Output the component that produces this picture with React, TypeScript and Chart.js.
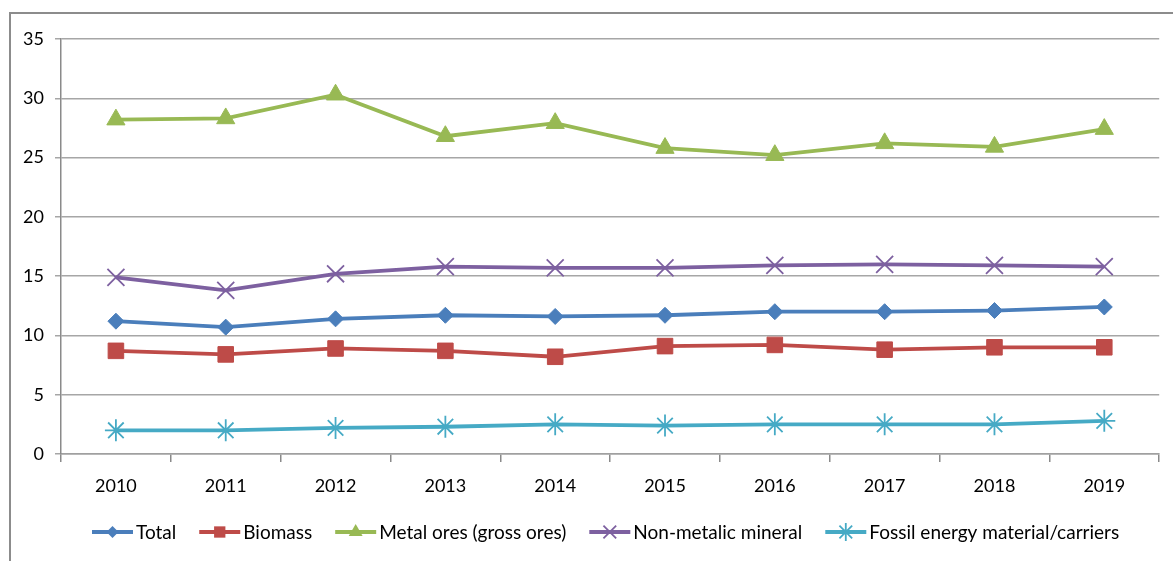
import React, { useEffect, useRef } from 'react';
import { Chart, registerables } from 'chart.js';

Chart.register(...registerables);

const categories = ['2010', '2011', '2012', '2013', '2014', '2015', '2016', '2017', '2018', '2019'];
const totalValues = [11.2, 10.7, 11.4, 11.7, 11.6, 11.7, 12.0, 12.0, 12.1, 12.4];
const biomassValues = [8.7, 8.4, 8.9, 8.7, 8.2, 9.1, 9.2, 8.8, 9.0, 9.0];
const metalOresValues = [28.2, 28.3, 30.3, 26.8, 27.9, 25.8, 25.2, 26.2, 25.9, 27.4];
const nonMetallicValues = [14.9, 13.8, 15.2, 15.8, 15.7, 15.7, 15.9, 16.0, 15.9, 15.8];
const fossilValues = [2.0, 2.0, 2.2, 2.3, 2.5, 2.4, 2.5, 2.5, 2.5, 2.8];
const seriesLabels = [
  'Total',
  'Biomass',
  'Metal ores (gross ores)',
  'Non-metalic mineral',
  'Fossil energy material/carriers',
];
const yMin = 0;
const yMax = 35;
const yStep = 5;

const FONT = 'Lato, "Open Sans", sans-serif';

type Style = { color: string; point: string; radius: number; legendRadius: number; bw: number; filled: boolean };
const styles: Style[] = [
  { color: '#4A7EBB', point: 'rectRot', radius: 8, legendRadius: 6, bw: 1, filled: true },
  { color: '#BE4B48', point: 'rect', radius: 11, legendRadius: 8, bw: 1, filled: true },
  { color: '#98B954', point: 'triangle', radius: 10.5, legendRadius: 8, bw: 1, filled: true },
  { color: '#7D60A0', point: 'crossRot', radius: 12, legendRadius: 9, bw: 1.8, filled: false },
  { color: '#46AAC5', point: 'star', radius: 11, legendRadius: 9, bw: 1.8, filled: false },
];

function drawMarker(ctx: CanvasRenderingContext2D, s: Style, x: number, y: number, r: number) {
  ctx.save();
  ctx.fillStyle = s.color;
  ctx.strokeStyle = s.color;
  ctx.lineWidth = s.bw;
  ctx.beginPath();
  const q = Math.SQRT1_2 * r;
  switch (s.point) {
    case 'rectRot':
      ctx.moveTo(x - r, y);
      ctx.lineTo(x, y - r);
      ctx.lineTo(x + r, y);
      ctx.lineTo(x, y + r);
      ctx.closePath();
      ctx.fill();
      break;
    case 'rect':
      ctx.rect(x - q, y - q, 2 * q, 2 * q);
      ctx.fill();
      break;
    case 'triangle':
      ctx.moveTo(x, y - r);
      ctx.lineTo(x + r * Math.sin(Math.PI / 3), y + r / 2);
      ctx.lineTo(x - r * Math.sin(Math.PI / 3), y + r / 2);
      ctx.closePath();
      ctx.fill();
      break;
    case 'crossRot':
      ctx.moveTo(x - q, y - q);
      ctx.lineTo(x + q, y + q);
      ctx.moveTo(x - q, y + q);
      ctx.lineTo(x + q, y - q);
      ctx.stroke();
      break;
    case 'star':
      ctx.moveTo(x, y - r);
      ctx.lineTo(x, y + r);
      ctx.moveTo(x - q, y - q);
      ctx.lineTo(x + q, y + q);
      ctx.moveTo(x - q, y + q);
      ctx.lineTo(x + q, y - q);
      ctx.stroke();
      break;
  }
  ctx.restore();
}

const framePlugin = {
  id: 'frame',
  beforeDraw(chart: any) {
    const ctx = chart.ctx as CanvasRenderingContext2D;
    ctx.save();
    ctx.strokeStyle = '#8c8c8c';
    ctx.lineWidth = 2;
    ctx.strokeRect(10, 13, 1400, 800);
    ctx.restore();
  },
};

const legendPlugin = {
  id: 'lineLegend',
  afterDraw(chart: any) {
    const ctx = chart.ctx as CanvasRenderingContext2D;
    ctx.save();
    ctx.font = `19px ${FONT}`;
    ctx.textBaseline = 'middle';
    ctx.textAlign = 'left';
    let x = 92;
    const y = 532;
    chart.data.datasets.forEach((ds: any, i: number) => {
      const s = styles[i];
      ctx.strokeStyle = s.color;
      ctx.lineWidth = 4;
      ctx.beginPath();
      ctx.moveTo(x, y);
      ctx.lineTo(x + 41, y);
      ctx.stroke();
      drawMarker(ctx, s, x + 20.5, y, s.legendRadius);
      ctx.fillStyle = '#000';
      ctx.fillText(ds.label, x + 44, y + 1);
      x += 44 + ctx.measureText(ds.label).width + 23;
    });
    ctx.restore();
  },
};

export default function App() {
  const ref = useRef<HTMLCanvasElement | null>(null);

  useEffect(() => {
    if (!ref.current) return;
    const seriesValues = [totalValues, biomassValues, metalOresValues, nonMetallicValues, fossilValues];
    const chart = new Chart(ref.current, {
      type: 'line',
      data: {
        labels: categories,
        datasets: seriesValues.map((vals, i) => ({
          label: seriesLabels[i],
          data: vals,
          borderColor: styles[i].color,
          backgroundColor: styles[i].color,
          borderWidth: 3.8,
          tension: 0,
          pointStyle: styles[i].point as any,
          pointRadius: styles[i].radius,
          pointHoverRadius: styles[i].radius,
          pointBackgroundColor: styles[i].color,
          pointBorderColor: styles[i].color,
          pointBorderWidth: styles[i].bw,
        })),
      },
      options: {
        animation: false,
        responsive: true,
        maintainAspectRatio: false,
        layout: { padding: { left: 0, right: 8, top: 39, bottom: 57 } },
        plugins: {
          legend: { display: false },
          tooltip: { enabled: false },
        },
        scales: {
          x: {
            offset: true,
            grid: {
              offset: true,
              drawOnChartArea: false,
              drawTicks: true,
              tickLength: 8,
              color: '#8a8a8a',
              lineWidth: 1.5,
            },
            border: { display: true, color: '#a0a0a0', width: 1.5 },
            ticks: {
              color: '#000',
              font: { family: FONT, size: 18 },
              padding: 13,
              maxRotation: 0,
            },
            afterFit: (scale: any) => {
              scale.height = 50;
            },
          },
          y: {
            min: yMin,
            max: yMax,
            ticks: {
              stepSize: yStep,
              color: '#000',
              font: { family: FONT, size: 18 },
              padding: 11,
            },
            grid: {
              color: '#a6a6a6',
              lineWidth: 1.5,
              tickLength: 6,
            },
            border: { display: true, color: '#8a8a8a', width: 1.5 },
            afterFit: (scale: any) => {
              scale.width = 61;
            },
          },
        },
      },
      plugins: [framePlugin, legendPlugin],
    });
    const fonts = (document as any).fonts;
    if (fonts && fonts.load) {
      fonts.load(`18px Lato`).then(() => chart.update()).catch(() => {});
    }
    return () => chart.destroy();
  }, []);

  return (
    <div style={{ position: 'fixed', left: 0, top: 0, width: 1173, height: 561, background: '#fff' }}>
      <canvas ref={ref} />
    </div>
  );
}
